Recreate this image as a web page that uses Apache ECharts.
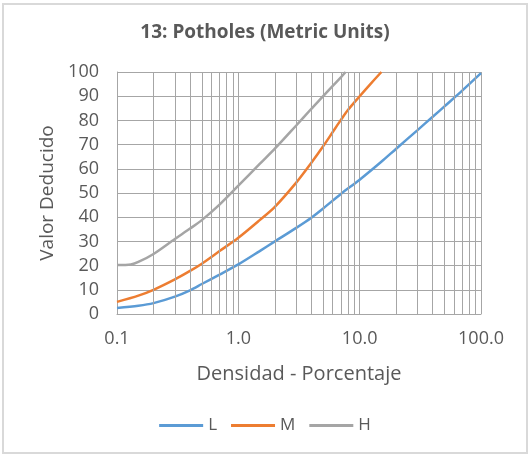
<!DOCTYPE html>
<html>
<head>
<meta charset="utf-8">
<script src="https://cdn.jsdelivr.net/npm/echarts@6/dist/echarts.min.js"></script>
<style>
html,body{margin:0;padding:0;background:#fff;}
#frame{position:absolute;left:2px;top:3px;width:522px;height:447px;border:2px solid #d9d9d9;}
#chart{position:absolute;left:0;top:0;width:530px;height:457px;}
</style>
</head>
<body>
<div id="frame"></div>
<div id="chart"></div>
<script>
const titleText = "13: Potholes (Metric Units)";
const xAxisName = "Densidad - Porcentaje";
const yAxisName = "Valor Deducido";
const minorGridX = [0.2,0.3,0.4,0.5,0.6,0.7,0.8,0.9,2,3,4,5,6,7,8,9,20,30,40,50,60,70,80,90];

const densL = [0.1,0.15,0.2,0.3,0.4,0.5,0.7,1,1.5,2,3,4,5,7,10,15,20,30,40,50,70,100];
const valsL = [2.5,3.4,4.5,7.2,9.8,12.4,16.3,20.5,26,30,35.6,39.8,43.6,49.6,55.5,62.8,68.3,76,81.5,85.8,92.3,99.5];

const densM = [0.1,0.15,0.2,0.3,0.4,0.5,0.7,1,1.5,2,3,4,5,6,7,8,10,12,15.1];
const valsM = [5,7.6,10,14.3,17.8,20.8,26,31.5,38.8,44.3,54.3,62.5,69.3,75.2,80.2,84.3,90,94.5,100];

const densH = [0.1,0.13,0.15,0.2,0.3,0.4,0.5,0.7,1,1.5,2,3,4,5,6,7,7.66];
const valsH = [20.2,20.5,21.5,24.8,31,35.3,38.8,45.2,53,62,68.3,77.9,84.8,90,94.3,97.8,100];

function pairs(xs, ys){ return xs.map((x,i)=>[x, ys[i]]); }

const chart = echarts.init(document.getElementById('chart'), null, {renderer:'canvas'});
const gridColor = '#a6a6a6';
const textColor = '#595959';
const font = '"Open Sans", "Noto Sans", sans-serif';

chart.setOption({
  animation:false,
  title:{text:titleText, left:'center', top:18,
    textStyle:{fontFamily:font, fontSize:19, fontWeight:'bold', color:textColor}},
  legend:{bottom:18, left:'center', itemWidth:44, itemHeight:3, itemGap:14,
    icon:'rect',
    textStyle:{fontFamily:font, fontSize:17, color:textColor},
    data:['L','M','H']},
  grid:{left:117, right:49, top:72, bottom:143, containLabel:false},
  xAxis:{type:'log', logBase:10, min:0.1, max:100,
    name:xAxisName, nameLocation:'middle', nameGap:50,
    nameTextStyle:{fontFamily:font, fontSize:20, color:textColor},
    axisLine:{show:true, lineStyle:{color:gridColor, width:1}},
    axisTick:{show:false},
    axisLabel:{fontFamily:font, fontSize:18, color:textColor, margin:16,
      formatter:(v)=> v < 1 ? String(v) : v.toFixed(1)},
    splitLine:{show:true, lineStyle:{color:gridColor, width:1}}},
  yAxis:{type:'value', min:0, max:100, interval:10,
    name:yAxisName, nameLocation:'middle', nameGap:60,
    nameTextStyle:{fontFamily:font, fontSize:19, color:textColor},
    axisLine:{show:true, lineStyle:{color:gridColor, width:1}},
    axisTick:{show:false},
    axisLabel:{fontFamily:font, fontSize:18, color:textColor, margin:18},
    splitLine:{show:true, lineStyle:{color:gridColor, width:1}}},
  series:[
    {name:'grid', type:'line', data:[], silent:true, z:1,
      markLine:{silent:true, symbol:['none','none'], label:{show:false},
        lineStyle:{color:gridColor, width:1, type:'solid'},
        data: minorGridX.map(v=>({xAxis:v}))}},
    {name:'L', type:'line', data:pairs(densL, valsL), smooth:0.3, showSymbol:false,
      color:'#5B9BD5', lineStyle:{width:2.5, color:'#5B9BD5'}, z:3},
    {name:'M', type:'line', data:pairs(densM, valsM), smooth:0.3, showSymbol:false,
      color:'#ED7D31', lineStyle:{width:2.5, color:'#ED7D31'}, z:3},
    {name:'H', type:'line', data:pairs(densH, valsH), smooth:0.3, showSymbol:false,
      color:'#A5A5A5', lineStyle:{width:2.5, color:'#A5A5A5'}, z:3}
  ]
});
</script>
</body>
</html>
